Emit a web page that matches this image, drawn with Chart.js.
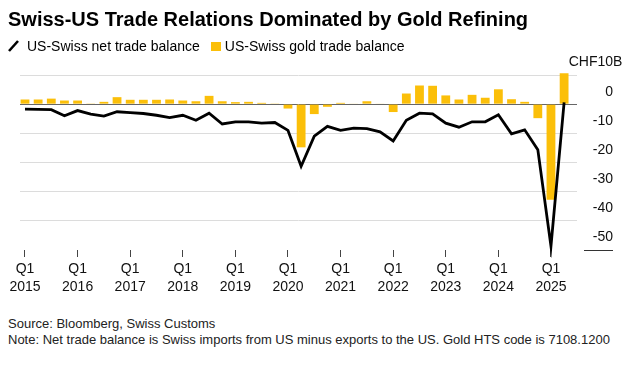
<!DOCTYPE html>
<html>
<head>
<meta charset="utf-8">
<script src="https://cdn.jsdelivr.net/npm/chart.js@4"></script>
<style>
  html, body { margin:0; padding:0; background:#fff; }
  body { width:634px; height:374px; position:relative; overflow:hidden; font-family:"Liberation Sans", Arial, sans-serif; color:#000; }
  #title { position:absolute; left:8px; top:8px; font-size:20px; font-weight:bold; white-space:nowrap; line-height:22px; }
  #legend { position:absolute; left:8px; top:36px; font-size:14px; line-height:18px; white-space:nowrap; }
  #legend span { display:inline-block; vertical-align:middle; }
  .sw { width:10px; height:9px; background:#fbbf09; margin:0 4px 0 0; }
  #chartBox { position:absolute; left:0; top:0; width:634px; height:300px; }
  #src { position:absolute; left:8px; top:316px; font-size:13px; line-height:16px; color:#222; white-space:nowrap; }
</style>
</head>
<body>
<div id="chartBox"><canvas id="c"></canvas></div>
<div id="title">Swiss-US Trade Relations Dominated by Gold Refining</div>
<div id="legend"><span><svg width="12" height="12" style="display:block;margin-right:7px"><line x1="1" y1="11" x2="10" y2="1" stroke="#000" stroke-width="2.6"/></svg></span><span>US-Swiss net trade balance</span><span style="width:11px"></span><span class="sw"></span><span>US-Swiss gold trade balance</span></div>
<div id="src">Source: Bloomberg, Swiss Customs<br>Note: Net trade balance is Swiss imports from US minus exports to the US. Gold HTS code is 7108.1200</div>
<script>
const quarters = ['2015 Q1','2015 Q2','2015 Q3','2015 Q4','2016 Q1','2016 Q2','2016 Q3','2016 Q4',
  '2017 Q1','2017 Q2','2017 Q3','2017 Q4','2018 Q1','2018 Q2','2018 Q3','2018 Q4',
  '2019 Q1','2019 Q2','2019 Q3','2019 Q4','2020 Q1','2020 Q2','2020 Q3','2020 Q4',
  '2021 Q1','2021 Q2','2021 Q3','2021 Q4','2022 Q1','2022 Q2','2022 Q3','2022 Q4',
  '2023 Q1','2023 Q2','2023 Q3','2023 Q4','2024 Q1','2024 Q2','2024 Q3','2024 Q4',
  '2025 Q1','2025 Q2'];
const netBalance = [-1.7,-1.8,-1.9,-4.0,-2.2,-3.4,-4.1,-2.6,-2.9,-3.2,-3.8,-4.6,-3.8,-5.5,-3.1,-6.8,
  -6.05,-6.05,-6.5,-6.3,-9.0,-21.3,-11.0,-7.6,-9.0,-8.2,-8.4,-9.5,-12.6,-5.5,-3.1,-3.3,
  -6.5,-7.9,-6.05,-6.05,-3.65,-10.2,-8.8,-15.6,-48.7,0.6];
const goldBalance = [1.6,1.6,1.9,1.25,1.25,0.1,0.8,2.4,1.5,1.5,1.5,1.6,1.25,1.0,2.85,1.0,
  0.7,0.8,0.45,0.1,-1.5,-14.8,-3.4,-0.9,0.45,0.2,1.0,0.2,-2.7,3.65,6.4,6.3,
  3.0,1.6,3.2,2.2,5.1,1.7,0.8,-4.8,-32.8,10.6];
const yTicks = [10,0,-10,-20,-30,-40,-50];
const unitPrefix = 'CHF';
const unitSuffix = 'B';

const FONT = '"Liberation Sans", Arial, sans-serif';
const q1Idx = quarters.map((q,i)=>q.endsWith('Q1')?i:-1).filter(i=>i>=0);

const yLabelPlugin = {
  id:'yLabels',
  afterDraw(chart){
    const ctx = chart.ctx, ys = chart.scales.y;
    ctx.save();
    ctx.font = '14px ' + FONT;
    ctx.fillStyle = '#111';
    ctx.textAlign = 'right';
    ctx.textBaseline = 'middle';
    const rx = 613;
    yTicks.forEach((v,k)=>{
      const py = ys.getPixelForValue(v) - 12.5;
      if (k===0) {
        const bw = ctx.measureText(unitSuffix).width;
        ctx.fillText(unitPrefix + v + unitSuffix, rx + bw, py);
      } else {
        ctx.fillText(String(v), rx, py);
      }
    });
    const pb = ys.getPixelForValue(yTicks[yTicks.length-1]);
    ctx.strokeStyle = '#333';
    ctx.lineWidth = 1;
    ctx.beginPath();
    ctx.moveTo(584, Math.round(pb)+0.5);
    ctx.lineTo(613, Math.round(pb)+0.5);
    ctx.stroke();
    ctx.restore();
  }
};

new Chart(document.getElementById('c'), {
  type:'bar',
  data:{
    datasets:[
      { type:'line', label:'US-Swiss net trade balance',
        data: netBalance.map((v,i)=>({x:i,y:v})),
        borderColor:'#000', borderWidth:2.8, pointRadius:0, tension:0, clip:false, order:0 },
      { type:'bar', label:'US-Swiss gold trade balance',
        data: goldBalance.map((v,i)=>({x:i,y:v})),
        backgroundColor:'#fbbf09', borderWidth:0, barPercentage:0.67, categoryPercentage:1, clip:false, order:1 }
    ]
  },
  options:{
    responsive:true, maintainAspectRatio:false, animation:false,
    layout:{ padding:{ left:20, right:21, top:75, bottom:5 } },
    plugins:{ legend:{display:false}, tooltip:{enabled:false} },
    scales:{
      x:{
        type:'linear', min:-0.38, max:41.98, offset:false,
        afterBuildTicks(s){ s.ticks = q1Idx.map(v=>({value:v})); },
        afterFit(s){ s.height = 45; },
        grid:{ offset:false, drawOnChartArea:false, drawTicks:true, tickLength:7, color:'#444', lineWidth:1 },
        border:{ display:false },
        ticks:{ autoSkip:false, maxRotation:0, padding:3, color:'#111',
          font:{ family:FONT, size:14, lineHeight:1.3 },
          callback:(v)=>{ const q = quarters[v]; if(!q) return ''; const p = q.split(' '); return [p[1], p[0]]; } }
      },
      y:{
        position:'right', min:-50, max:10,
        afterBuildTicks(s){ s.ticks = yTicks.map(v=>({value:v})); },
        afterFit(s){ s.width = 36; },
        grid:{ drawTicks:false, lineWidth:1,
          color:(c)=> c.tick.value===0 ? '#666' : (c.tick.value===-50 ? 'rgba(0,0,0,0)' : '#dcdcdc') },
        border:{ display:false },
        ticks:{ display:false }
      }
    }
  },
  plugins:[yLabelPlugin]
});
</script>
</body>
</html>
